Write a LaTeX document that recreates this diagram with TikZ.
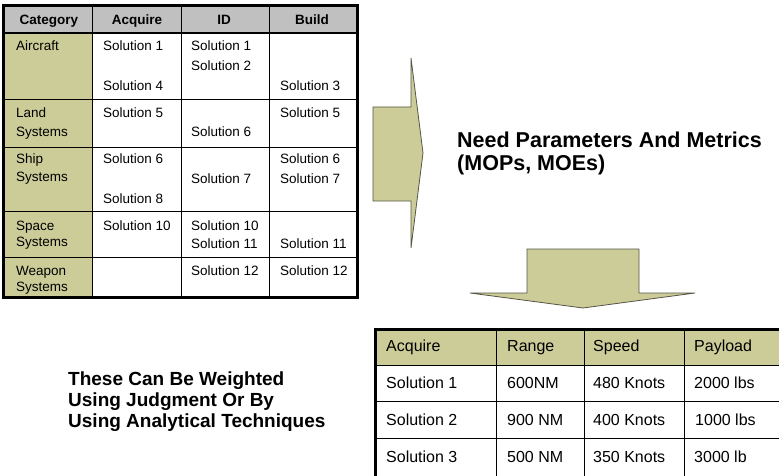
\documentclass[tikz,border=0pt]{standalone}
\usepackage{fontspec}
\setmainfont{Liberation Sans}
\usepackage{tikz}
\definecolor{khaki}{RGB}{204,204,153}
\definecolor{hdrgray}{RGB}{192,192,192}
\definecolor{arrowline}{RGB}{85,85,70}

\begin{document}
\begin{tikzpicture}[x=1pt, y=-1pt,
                    cell/.style={anchor=base west, inner sep=0pt, yshift=-5pt, font=\fontsize{13.5}{15}\selectfont},
                    headcell/.style={anchor=base, inner sep=0pt, yshift=-5pt, font=\bfseries\fontsize{13.5}{15}\selectfont},
                    bigcell/.style={anchor=base west, inner sep=0pt, yshift=-6pt, font=\fontsize{16}{18}\selectfont},
                    blurb/.style={anchor=west, inner sep=0pt, align=left},
                    blockarrow/.style={fill=khaki, draw=arrowline, line width=0.8pt, line join=miter}]
                    \useasboundingbox (0,0) rectangle (779,476);
                    \clip (0,0) rectangle (779,476);
                    \def\tl{3}
                    \def\tr{357}
                    \def\tt{6}
                    \def\tb{297}
                        \fill[hdrgray] (\tl,\tt) rectangle (\tr,33);
                        \fill[khaki] (\tl,33) rectangle (92,\tb);
                        \foreach \y in {99, 147, 211, 257} {
                            \draw[line width=0.9pt] (\tl,\y) -- (\tr,\y);
                        }
                        \draw[line width=1.4pt] (\tl,33) -- (\tr,33);
                        \foreach \x in {92, 181, 269} {
                            \draw[line width=0.9pt] (\x,\tt) -- (\x,\tb);
                        }
                        \draw[line width=3pt] (\tl,\tt) rectangle (\tr,\tb);
                        \foreach \lbl/\x [count=\n] in {Category/49, Acquire/137, ID/224, Build/312} {
                            \node[headcell] (head\n) at (\x,20) {\lbl};
                        }
                        \foreach \x/\y/\lbl [count=\n] in {
                            16/46/Aircraft, 16/113/Land, 16/131/Systems, 16/159/Ship, 16/177/Systems,
                            16/225/Space, 16/241/Systems, 16/270/Weapon, 16/286/Systems,
                            103/46/Solution 1, 103/86/Solution 4, 103/113/Solution 5, 103/159/Solution 6,
                            103/198/Solution 8, 103/225/Solution 10,
                            191/46/Solution 1, 191/66/Solution 2, 191/132/Solution 6, 191/178/Solution 7,
                            191/225/Solution 10, 191/243/Solution 11, 191/270/Solution 12,
                            280/86/Solution 3, 280/113/Solution 5, 280/159/Solution 6, 280/178/Solution 7,
                            280/243/Solution 11, 280/270/Solution 12} {
                            \node[cell] (cell\n) at (\x,\y) {\lbl};
                        }
                    \def\bl{375}
                    \def\bt{329}
                        \fill[khaki] (\bl,\bt) rectangle (790,365);
                        \foreach \y in {365, 401, 438} {
                            \draw[line width=0.9pt] (\bl,\y) -- (790,\y);
                        }
                        \foreach \x in {496, 584, 684} {
                            \draw[line width=0.9pt] (\x,\bt) -- (\x,480);
                        }
                        \draw[line width=3pt] (\bl,480) -- (\bl,\bt) -- (790,\bt);
                        \foreach \x/\y/\lbl [count=\n] in {
                            386/345/Acquire, 507/345/Range, 593/345/Speed, 694/345/Payload,
                            386/382/Solution 1, 507/382/600NM, 593/382/480 Knots, 694/382/2000 lbs,
                            386/419/Solution 2, 507/419/900 NM, 593/419/400 Knots, 695/419/1000 lbs,
                            386/456/Solution 3, 507/456/500 NM, 593/456/350 Knots, 694/456/3000 lb} {
                            \node[bigcell] (metric\n) at (\x,\y) {\lbl};
                        }
                        \draw[blockarrow] (373,107) -- (411,107) -- (411,58) -- (423,153) -- (411,248) -- (411,201) -- (373,201) -- cycle;
                        \draw[blockarrow] (527,249) -- (639,249) -- (639,293) -- (695,293) -- (583,308) -- (470,293) -- (527,293) -- cycle;
                        \node[blurb, font=\bfseries\fontsize{21.5}{23}\selectfont] (needs) at (457,153.5) {Need Parameters And Metrics\\(MOPs, MOEs)};
                        \node[blurb, font=\bfseries\fontsize{19}{21}\selectfont] (weighting) at (68,402) {These Can Be Weighted\\Using Judgment Or By\\Using Analytical Techniques};
                \end{tikzpicture}
\end{document}
